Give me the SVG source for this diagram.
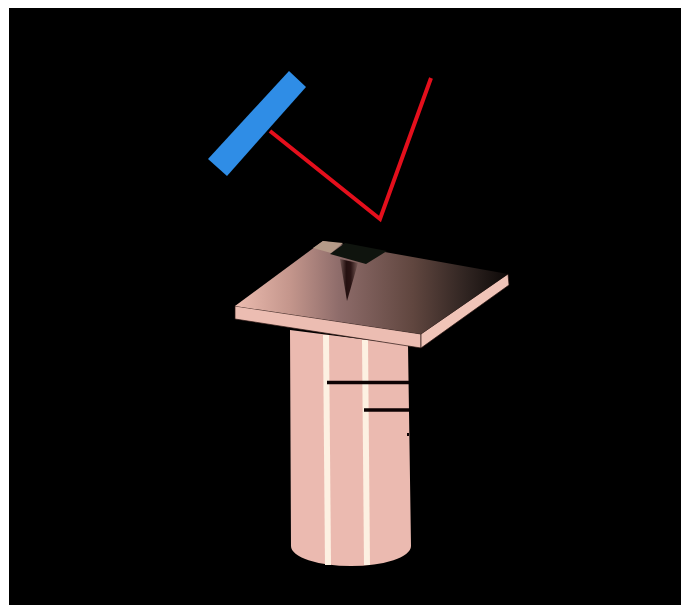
<svg xmlns="http://www.w3.org/2000/svg" width="681" height="605" viewBox="0 0 681 605">
<defs>
<linearGradient id="plateTop" gradientUnits="userSpaceOnUse" x1="235" y1="0" x2="509" y2="0">
<stop offset="0" stop-color="#ecbcb0"/>
<stop offset="0.2" stop-color="#c4968c"/>
<stop offset="0.38" stop-color="#8e6c6a"/>
<stop offset="0.65" stop-color="#60463f"/>
<stop offset="0.85" stop-color="#2e2320"/>
<stop offset="1" stop-color="#0c0807"/>
</linearGradient>
<linearGradient id="spike" gradientUnits="userSpaceOnUse" x1="340" y1="0" x2="358" y2="0">
<stop offset="0" stop-color="#6f5350"/>
<stop offset="0.35" stop-color="#241010"/>
<stop offset="0.6" stop-color="#2a1414"/>
<stop offset="1" stop-color="#7a5c58"/>
</linearGradient>
<style>
.pink{fill:#ebbab0}
.stripe{fill:#fdf1e2}
.bar{stroke:#0c0203;stroke-width:3.5;fill:none}
</style>
</defs>
<rect width="681" height="605" fill="#fff"/>
<rect x="9" y="8" width="672" height="597" fill="#000"/>
<g id="mirror"><polygon points="289,71 306,87 227,176 208,159" fill="#2f8de6"/></g>
<g id="connectors"><polyline points="270,131 380,219 431,78" fill="none" stroke="#e40f1c" stroke-width="4"/></g>
<g id="column">
<path class="pink" d="M290,330 L408,345 L411,546 A60,20 0 0 1 291,546 Z"/>
<polygon class="stripe" points="323,335 329,335 331,565 325,565"/>
<polygon class="stripe" points="362,340 368,340 370,565 364,565"/>
<line class="bar" x1="327" y1="382.5" x2="409" y2="382.5"/>
<line class="bar" x1="364" y1="410" x2="409" y2="410"/>
<rect x="407" y="433" width="2" height="3" fill="#0c0203"/>
</g>
<g id="plate">
<polygon points="235,306 421,334 421,348 235,319" fill="#ecbdb2" stroke="#2a1512" stroke-width="0.7"/>
<polygon points="421,334 508,274 509,285 421,348" fill="#f0c4b8" stroke="#2a1512" stroke-width="0.7"/>
<polygon points="323,241 508,274 421,334 235,306" fill="url(#plateTop)"/>
</g>
<g id="probe">
<polygon points="323,241 343,243 331,253 313,248" fill="#b59a88"/>
<polygon points="330,254 345,243 387,251 366,264" fill="#0f140e"/>
<polygon points="340,259 358,263 347,301" fill="url(#spike)"/>
</g>
</svg>
